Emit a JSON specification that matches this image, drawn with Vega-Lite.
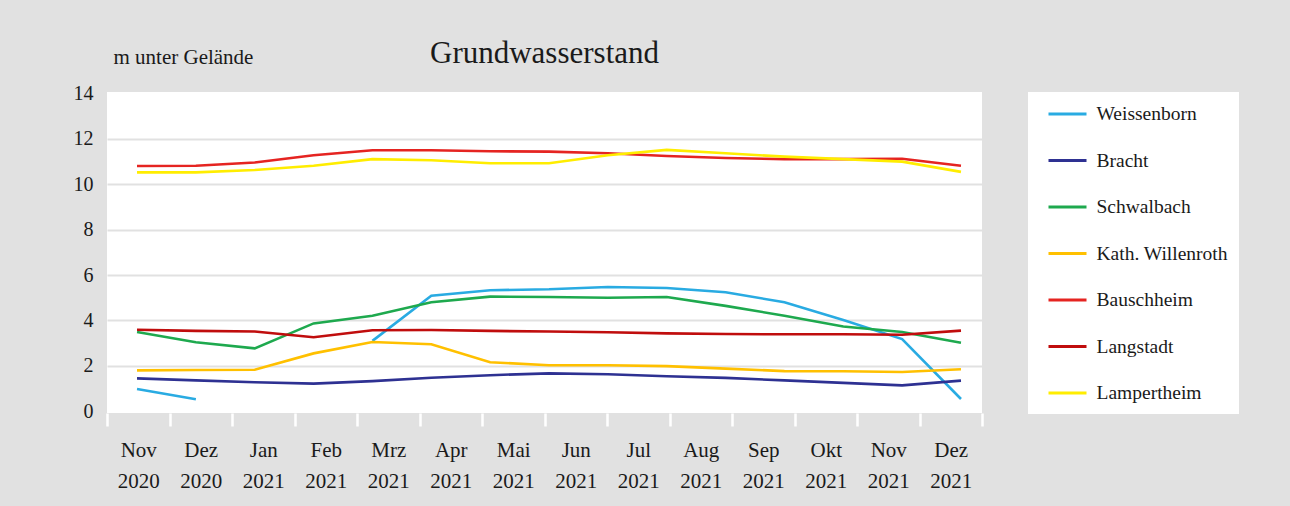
{
  "$schema": "https://vega.github.io/schema/vega-lite/v6.json",
  "autosize": {"type": "none"},
  "width": 875,
  "height": 321,
  "padding": {"left": 107, "top": 92, "right": 308, "bottom": 93},
  "background": "#e1e1e1",
  "config": {
    "font": "Liberation Serif",
    "view": {"fill": "white", "stroke": null}
  },
  "title": {"text": "Grundwasserstand", "fontSize": 31, "fontWeight": "normal", "anchor": "middle", "baseline": "alphabetic", "offset": 0, "dy": 48, "color": "#1a1a1a"},
  "datasets": {
    "werte": [
      {"Messung": 1, "Messstelle": "Weissenborn", "Wert": 0.98},
      {"Messung": 2, "Messstelle": "Weissenborn", "Wert": 0.53},
      {"Messung": 3, "Messstelle": "Weissenborn", "Wert": null},
      {"Messung": 4, "Messstelle": "Weissenborn", "Wert": null},
      {"Messung": 5, "Messstelle": "Weissenborn", "Wert": 3.10},
      {"Messung": 6, "Messstelle": "Weissenborn", "Wert": 5.09},
      {"Messung": 7, "Messstelle": "Weissenborn", "Wert": 5.33},
      {"Messung": 8, "Messstelle": "Weissenborn", "Wert": 5.37},
      {"Messung": 9, "Messstelle": "Weissenborn", "Wert": 5.47},
      {"Messung": 10, "Messstelle": "Weissenborn", "Wert": 5.43},
      {"Messung": 11, "Messstelle": "Weissenborn", "Wert": 5.24},
      {"Messung": 12, "Messstelle": "Weissenborn", "Wert": 4.80},
      {"Messung": 13, "Messstelle": "Weissenborn", "Wert": 4.02},
      {"Messung": 14, "Messstelle": "Weissenborn", "Wert": 3.18},
      {"Messung": 15, "Messstelle": "Weissenborn", "Wert": 0.54},
      {"Messung": 1, "Messstelle": "Bracht", "Wert": 1.45},
      {"Messung": 2, "Messstelle": "Bracht", "Wert": 1.36},
      {"Messung": 3, "Messstelle": "Bracht", "Wert": 1.28},
      {"Messung": 4, "Messstelle": "Bracht", "Wert": 1.22},
      {"Messung": 5, "Messstelle": "Bracht", "Wert": 1.33},
      {"Messung": 6, "Messstelle": "Bracht", "Wert": 1.48},
      {"Messung": 7, "Messstelle": "Bracht", "Wert": 1.59},
      {"Messung": 8, "Messstelle": "Bracht", "Wert": 1.67},
      {"Messung": 9, "Messstelle": "Bracht", "Wert": 1.63},
      {"Messung": 10, "Messstelle": "Bracht", "Wert": 1.54},
      {"Messung": 11, "Messstelle": "Bracht", "Wert": 1.47},
      {"Messung": 12, "Messstelle": "Bracht", "Wert": 1.36},
      {"Messung": 13, "Messstelle": "Bracht", "Wert": 1.25},
      {"Messung": 14, "Messstelle": "Bracht", "Wert": 1.14},
      {"Messung": 15, "Messstelle": "Bracht", "Wert": 1.35},
      {"Messung": 1, "Messstelle": "Schwalbach", "Wert": 3.49},
      {"Messung": 2, "Messstelle": "Schwalbach", "Wert": 3.04},
      {"Messung": 3, "Messstelle": "Schwalbach", "Wert": 2.77},
      {"Messung": 4, "Messstelle": "Schwalbach", "Wert": 3.87},
      {"Messung": 5, "Messstelle": "Schwalbach", "Wert": 4.21},
      {"Messung": 6, "Messstelle": "Schwalbach", "Wert": 4.80},
      {"Messung": 7, "Messstelle": "Schwalbach", "Wert": 5.05},
      {"Messung": 8, "Messstelle": "Schwalbach", "Wert": 5.03},
      {"Messung": 9, "Messstelle": "Schwalbach", "Wert": 5.00},
      {"Messung": 10, "Messstelle": "Schwalbach", "Wert": 5.03},
      {"Messung": 11, "Messstelle": "Schwalbach", "Wert": 4.64},
      {"Messung": 12, "Messstelle": "Schwalbach", "Wert": 4.21},
      {"Messung": 13, "Messstelle": "Schwalbach", "Wert": 3.73},
      {"Messung": 14, "Messstelle": "Schwalbach", "Wert": 3.49},
      {"Messung": 15, "Messstelle": "Schwalbach", "Wert": 3.02},
      {"Messung": 1, "Messstelle": "Kath. Willenroth", "Wert": 1.80},
      {"Messung": 2, "Messstelle": "Kath. Willenroth", "Wert": 1.82},
      {"Messung": 3, "Messstelle": "Kath. Willenroth", "Wert": 1.83},
      {"Messung": 4, "Messstelle": "Kath. Willenroth", "Wert": 2.55},
      {"Messung": 5, "Messstelle": "Kath. Willenroth", "Wert": 3.05},
      {"Messung": 6, "Messstelle": "Kath. Willenroth", "Wert": 2.95},
      {"Messung": 7, "Messstelle": "Kath. Willenroth", "Wert": 2.16},
      {"Messung": 8, "Messstelle": "Kath. Willenroth", "Wert": 2.03},
      {"Messung": 9, "Messstelle": "Kath. Willenroth", "Wert": 2.03},
      {"Messung": 10, "Messstelle": "Kath. Willenroth", "Wert": 1.99},
      {"Messung": 11, "Messstelle": "Kath. Willenroth", "Wert": 1.88},
      {"Messung": 12, "Messstelle": "Kath. Willenroth", "Wert": 1.77},
      {"Messung": 13, "Messstelle": "Kath. Willenroth", "Wert": 1.76},
      {"Messung": 14, "Messstelle": "Kath. Willenroth", "Wert": 1.73},
      {"Messung": 15, "Messstelle": "Kath. Willenroth", "Wert": 1.85},
      {"Messung": 1, "Messstelle": "Bauschheim", "Wert": 10.80},
      {"Messung": 2, "Messstelle": "Bauschheim", "Wert": 10.81},
      {"Messung": 3, "Messstelle": "Bauschheim", "Wert": 10.95},
      {"Messung": 4, "Messstelle": "Bauschheim", "Wert": 11.27},
      {"Messung": 5, "Messstelle": "Bauschheim", "Wert": 11.49},
      {"Messung": 6, "Messstelle": "Bauschheim", "Wert": 11.49},
      {"Messung": 7, "Messstelle": "Bauschheim", "Wert": 11.45},
      {"Messung": 8, "Messstelle": "Bauschheim", "Wert": 11.43},
      {"Messung": 9, "Messstelle": "Bauschheim", "Wert": 11.36},
      {"Messung": 10, "Messstelle": "Bauschheim", "Wert": 11.24},
      {"Messung": 11, "Messstelle": "Bauschheim", "Wert": 11.15},
      {"Messung": 12, "Messstelle": "Bauschheim", "Wert": 11.10},
      {"Messung": 13, "Messstelle": "Bauschheim", "Wert": 11.10},
      {"Messung": 14, "Messstelle": "Bauschheim", "Wert": 11.12},
      {"Messung": 15, "Messstelle": "Bauschheim", "Wert": 10.81},
      {"Messung": 1, "Messstelle": "Langstadt", "Wert": 3.59},
      {"Messung": 2, "Messstelle": "Langstadt", "Wert": 3.54},
      {"Messung": 3, "Messstelle": "Langstadt", "Wert": 3.51},
      {"Messung": 4, "Messstelle": "Langstadt", "Wert": 3.26},
      {"Messung": 5, "Messstelle": "Langstadt", "Wert": 3.57},
      {"Messung": 6, "Messstelle": "Langstadt", "Wert": 3.58},
      {"Messung": 7, "Messstelle": "Langstadt", "Wert": 3.54},
      {"Messung": 8, "Messstelle": "Langstadt", "Wert": 3.51},
      {"Messung": 9, "Messstelle": "Langstadt", "Wert": 3.48},
      {"Messung": 10, "Messstelle": "Langstadt", "Wert": 3.43},
      {"Messung": 11, "Messstelle": "Langstadt", "Wert": 3.40},
      {"Messung": 12, "Messstelle": "Langstadt", "Wert": 3.39},
      {"Messung": 13, "Messstelle": "Langstadt", "Wert": 3.39},
      {"Messung": 14, "Messstelle": "Langstadt", "Wert": 3.37},
      {"Messung": 15, "Messstelle": "Langstadt", "Wert": 3.55},
      {"Messung": 1, "Messstelle": "Lampertheim", "Wert": 10.52},
      {"Messung": 2, "Messstelle": "Lampertheim", "Wert": 10.52},
      {"Messung": 3, "Messstelle": "Lampertheim", "Wert": 10.62},
      {"Messung": 4, "Messstelle": "Lampertheim", "Wert": 10.81},
      {"Messung": 5, "Messstelle": "Lampertheim", "Wert": 11.10},
      {"Messung": 6, "Messstelle": "Lampertheim", "Wert": 11.05},
      {"Messung": 7, "Messstelle": "Lampertheim", "Wert": 10.92},
      {"Messung": 8, "Messstelle": "Lampertheim", "Wert": 10.92},
      {"Messung": 9, "Messstelle": "Lampertheim", "Wert": 11.27},
      {"Messung": 10, "Messstelle": "Lampertheim", "Wert": 11.51},
      {"Messung": 11, "Messstelle": "Lampertheim", "Wert": 11.36},
      {"Messung": 12, "Messstelle": "Lampertheim", "Wert": 11.21},
      {"Messung": 13, "Messstelle": "Lampertheim", "Wert": 11.10},
      {"Messung": 14, "Messstelle": "Lampertheim", "Wert": 10.99},
      {"Messung": 15, "Messstelle": "Lampertheim", "Wert": 10.54}
    ],
    "monate": [
      {"Monat": "Nov 2020"}, {"Monat": "Dez 2020"}, {"Monat": "Jan 2021"}, {"Monat": "Feb 2021"},
      {"Monat": "Mrz 2021"}, {"Monat": "Apr 2021"}, {"Monat": "Mai 2021"}, {"Monat": "Jun 2021"},
      {"Monat": "Jul 2021"}, {"Monat": "Aug 2021"}, {"Monat": "Sep 2021"}, {"Monat": "Okt 2021"},
      {"Monat": "Nov 2021"}, {"Monat": "Dez 2021"}
    ]
  },
  "layer": [
    {
      "data": {"name": "werte"},
      "mark": {"type": "line", "strokeWidth": 2.6, "invalid": "break-paths-filter-domains"},
      "encoding": {
        "x": {"field": "Messung", "type": "quantitative", "scale": {"domain": [0.49, 15.357], "nice": false, "zero": false}, "axis": null},
        "y": {
          "field": "Wert", "type": "quantitative",
          "scale": {"domain": [-0.075, 14.057], "nice": false, "zero": false},
          "axis": {
            "values": [0, 2, 4, 6, 8, 10, 12, 14],
            "title": "m unter Gelände", "titleAngle": 0, "titleAlign": "left", "titleBaseline": "alphabetic",
            "titleX": 6, "titleY": -29, "titleFontSize": 21, "titleFontWeight": "normal", "titleColor": "#1a1a1a",
            "labelFontSize": 20, "labelColor": "#1a1a1a", "labelPadding": 14,
            "ticks": false, "domain": false,
            "grid": true, "gridColor": "#e1e1e1", "gridWidth": 2,
            "gridOpacity": {"condition": {"test": "datum.value == 0 || datum.value == 14", "value": 0}, "value": 1}
          }
        },
        "color": {
          "field": "Messstelle", "type": "nominal",
          "scale": {
            "domain": ["Weissenborn", "Bracht", "Schwalbach", "Kath. Willenroth", "Bauschheim", "Langstadt", "Lampertheim"],
            "range": ["#29abe2", "#2e3192", "#1ea94e", "#ffc000", "#e52421", "#c00d0d", "#ffed00"]
          },
          "legend": {
            "title": null, "orient": "none", "legendX": 921, "legendY": 0,
            "fillColor": "white", "padding": 11,
            "symbolType": "M-2,0H2", "symbolSize": 361, "symbolStrokeWidth": 3, "symbolOffset": 17.5,
            "labelFontSize": 19.5, "labelColor": "#1a1a1a", "labelOffset": 18,
            "rowPadding": 25.5
          }
        }
      }
    },
    {
      "data": {"name": "monate"},
      "mark": {"type": "rule", "opacity": 0},
      "encoding": {
        "x": {
          "field": "Monat", "type": "ordinal", "sort": null,
          "scale": {"type": "band", "paddingInner": 0, "paddingOuter": 0},
          "axis": {
            "title": null, "orient": "bottom", "domain": false, "grid": false,
            "tickBand": "extent", "tickColor": "white", "tickWidth": 2.5, "tickSize": 13,
            "labelAngle": 0, "labelExpr": "split(datum.label, ' ')", "labelFontSize": 21,
            "labelLineHeight": 31, "labelPadding": 13, "labelColor": "#1a1a1a"
          }
        }
      }
    }
  ],
  "resolve": {"scale": {"x": "independent"}, "axis": {"x": "independent"}}
}
